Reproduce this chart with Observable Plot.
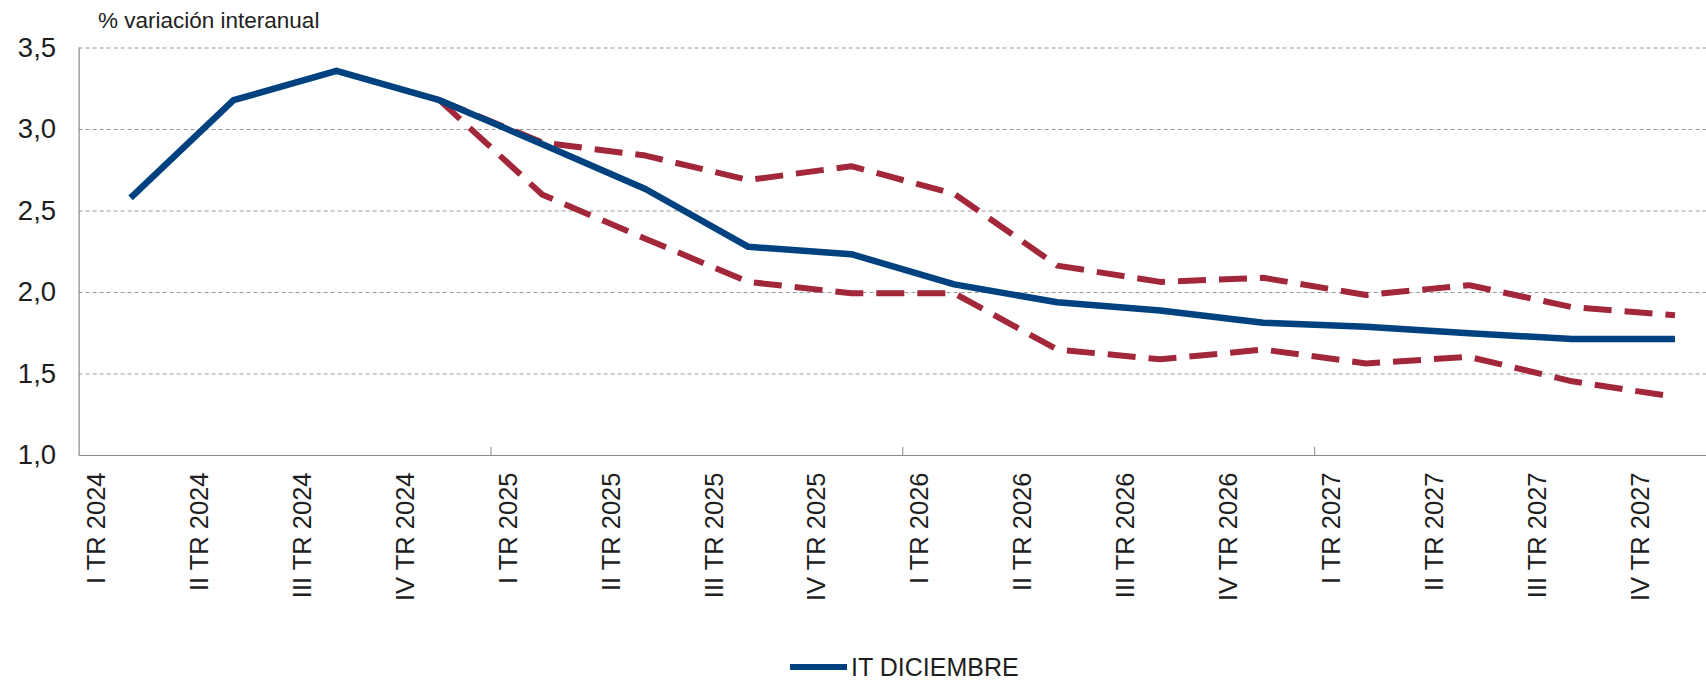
<!DOCTYPE html>
<html>
<head>
<meta charset="utf-8">
<script src="https://cdn.jsdelivr.net/npm/d3@7"></script>
<script src="https://cdn.jsdelivr.net/npm/@observablehq/plot@0.6"></script>
<style>
  html, body { margin: 0; padding: 0; background: #fff; }
  #wrap { position: relative; width: 1706px; height: 683px; overflow: hidden; font-family: "Liberation Sans", Arial, sans-serif; color: #1e1e1e; }
  #title { position: absolute; left: 98px; top: 10px; font-size: 22.5px; line-height: 22px; white-space: nowrap; }
  #chart { position: absolute; left: 0; top: 0; }
  #legend { position: absolute; left: 790px; top: 655px; height: 24px; display: flex; align-items: center; white-space: nowrap; }
  #legend .sw { width: 57px; height: 6px; background: #00427f; margin-right: 4px; }
  #legend .lb { font-size: 25px; line-height: 24px; }
</style>
</head>
<body>
<div id="wrap">
  <div id="chart"></div>
  <div id="title">% variación interanual</div>
  <div id="legend"><div class="sw"></div><div class="lb">IT DICIEMBRE</div></div>
</div>
<script>
const categories = [
  "I TR 2024", "II TR 2024", "III TR 2024", "IV TR 2024",
  "I TR 2025", "II TR 2025", "III TR 2025", "IV TR 2025",
  "I TR 2026", "II TR 2026", "III TR 2026", "IV TR 2026",
  "I TR 2027", "II TR 2027", "III TR 2027", "IV TR 2027"
];
const central = [2.58, 3.18, 3.36, 3.18, 2.91, 2.635, 2.28, 2.235, 2.05, 1.94, 1.89, 1.815, 1.79, 1.75, 1.715, 1.715];
const upper   = [null, null, null, 3.18, 2.92, 2.84, 2.69, 2.775, 2.605, 2.165, 2.065, 2.09, 1.985, 2.045, 1.91, 1.86];
const lower   = [null, null, null, 3.18, 2.60, 2.33, 2.065, 1.995, 1.995, 1.65, 1.59, 1.65, 1.565, 1.605, 1.455, 1.36];
const yTicks  = [1.0, 1.5, 2.0, 2.5, 3.0, 3.5];

const BLUE = "#00427f";
const RED = "#a3273a";

const toRows = arr => arr.map((v, i) => ({i, v})).filter(d => d.v != null);
const yearBounds = categories.map((c, i) => i).filter(i => i > 0 && i % 4 === 0).map(i => i - 0.5);
const xMin = -0.5;
const xMax = 15.306;

const chart = Plot.plot({
  width: 1706,
  height: 600,
  marginLeft: 78.6,
  marginRight: 0,
  marginTop: 47.5,
  marginBottom: 145,
  style: {fontFamily: "Liberation Sans, Arial, sans-serif", fontSize: "25px", background: "transparent", overflow: "visible", color: "#1e1e1e"},
  x: {type: "linear", domain: [xMin, xMax], axis: null},
  y: {domain: [1, 3.5], axis: null},
  marks: [
    Plot.ruleY(yTicks.filter(v => v > 1), {y: d => d, stroke: "#9a9a9a", strokeWidth: 1, strokeDasharray: "4,3"}),
    Plot.ruleY([1], {stroke: "#8a8a8a", strokeWidth: 1.2}),
    Plot.ruleX([xMin], {y1: 1, y2: 3.5, stroke: "#8a8a8a", strokeWidth: 1.2}),
    Plot.ruleX(yearBounds, {x: d => d, y1: 1, y2: 1.05, stroke: "#8a8a8a", strokeWidth: 1}),
    Plot.text(yTicks, {x: xMin, y: d => d, text: d => d.toFixed(1).replace(".", ","), textAnchor: "end", dx: -23, fontSize: 27.5, fill: "#1e1e1e"}),
    Plot.text(categories, {x: (d, i) => i, y: 1, text: d => d, rotate: -90, textAnchor: "end", dx: -34, dy: 17, fontSize: 25.5, fill: "#1e1e1e"}),
    Plot.line(toRows(upper), {x: "i", y: "v", stroke: RED, strokeWidth: 6, strokeDasharray: "28,13", strokeLinecap: "butt", strokeLinejoin: "miter"}),
    Plot.line(toRows(lower), {x: "i", y: "v", stroke: RED, strokeWidth: 6, strokeDasharray: "28,13", strokeLinecap: "butt", strokeLinejoin: "miter"}),
    Plot.line(toRows(central), {x: "i", y: "v", stroke: BLUE, strokeWidth: 6.5, strokeLinecap: "butt", strokeLinejoin: "round"})
  ]
});
document.getElementById("chart").appendChild(chart);
</script>
</body>
</html>
